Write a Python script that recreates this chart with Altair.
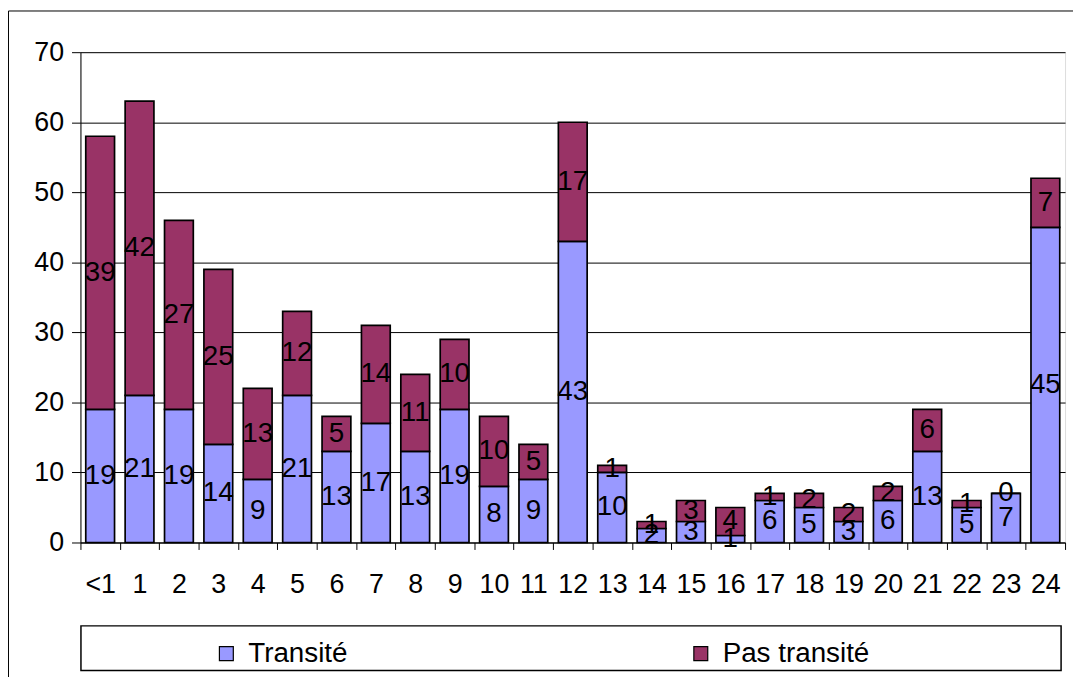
import altair as alt
import pandas as pd

categories = ["<1", "1", "2", "3", "4", "5", "6", "7", "8", "9", "10", "11", "12",
              "13", "14", "15", "16", "17", "18", "19", "20", "21", "22", "23", "24"]
transite = [19, 21, 19, 14, 9, 21, 13, 17, 13, 19, 8, 9, 43, 10, 2, 3, 1, 6, 5, 3, 6, 13, 5, 7, 45]
pas_transite = [39, 42, 27, 25, 13, 12, 5, 14, 11, 10, 10, 5, 17, 1, 1, 3, 4, 1, 2, 2, 2, 6, 1, 0, 7]
series_names = ["Transité", "Pas transité"]
series_colors = ["#9999FF", "#993366"]
y_ticks = [0, 10, 20, 30, 40, 50, 60, 70]

rows = []
for i, c in enumerate(categories):
    rows.append({"cat": c, "serie": series_names[0], "ord": 0, "value": transite[i]})
    rows.append({"cat": c, "serie": series_names[1], "ord": 1, "value": pas_transite[i]})
df = pd.DataFrame(rows)

FONT = "Liberation Sans"
W, H = 992, 494

x_enc = alt.X("cat:N", sort=categories, title=None,
              scale=alt.Scale(paddingInner=0, paddingOuter=0),
              axis=alt.Axis(labelAngle=0, labelFontSize=27, labelFont=FONT, labelColor="black",
                            tickBand="extent", tickSize=7, tickColor="black", domainColor="black",
                            labelPadding=22))
y_scale = alt.Scale(domain=[0, 70], nice=False)

bars = alt.Chart(df).mark_bar(size=29, stroke="black", strokeWidth=1.7).encode(
    x=x_enc,
    y=alt.Y("value:Q", stack="zero", scale=y_scale, title=None,
            axis=alt.Axis(values=y_ticks, labelFontSize=27, labelFont=FONT, labelColor="black",
                          tickSize=9, tickColor="black", domainColor="black", gridColor="black",
                          gridWidth=1, labelPadding=8)),
    color=alt.Color("serie:N", scale=alt.Scale(domain=series_names, range=series_colors),
                    legend=alt.Legend(orient="none", legendX=133, legendY=592, direction="horizontal",
                                      columns=2, columnPadding=341, title=None, symbolType="square",
                                      symbolSize=196, symbolStrokeColor="black", symbolStrokeWidth=1.2,
                                      labelFontSize=28, labelFont=FONT, labelColor="black",
                                      labelOffset=8)),
    order=alt.Order("ord:Q"),
)

labels = alt.Chart(df).transform_stack(
    stack="value", groupby=["cat"], sort=[alt.SortField("ord", order="ascending")], as_=["y0", "y1"]
).transform_calculate(
    mid="(datum.y0 + datum.y1) / 2"
).mark_text(fontSize=28, font=FONT, color="black", baseline="middle", align="center").encode(
    x=alt.X("cat:N", sort=categories),
    y=alt.Y("mid:Q", scale=y_scale),
    text=alt.Text("value:Q"),
)

frame = alt.Chart(alt.Data(values=[{}])).mark_rect(filled=False, stroke="black", strokeWidth=1).encode(
    x=alt.value(-72.5), x2=alt.value(1010), y=alt.value(-41.5), y2=alt.value(700)
)
legend_box = alt.Chart(alt.Data(values=[{}])).mark_rect(filled=False, stroke="black", strokeWidth=1.5).encode(
    x=alt.value(0.5), x2=alt.value(988), y=alt.value(578), y2=alt.value(623)
)

chart = alt.layer(frame, legend_box, bars, labels).properties(
    width=W, height=H,
    padding={"left": 73, "top": 42, "right": 8, "bottom": 133},
    autosize=alt.AutoSizeParams(type="none"),
).configure_view(
    fill="#C0C0C0", stroke="#808080", strokeWidth=2
).configure(background="white")

chart.save("out.html", embed_options={"renderer": "svg", "actions": False})
